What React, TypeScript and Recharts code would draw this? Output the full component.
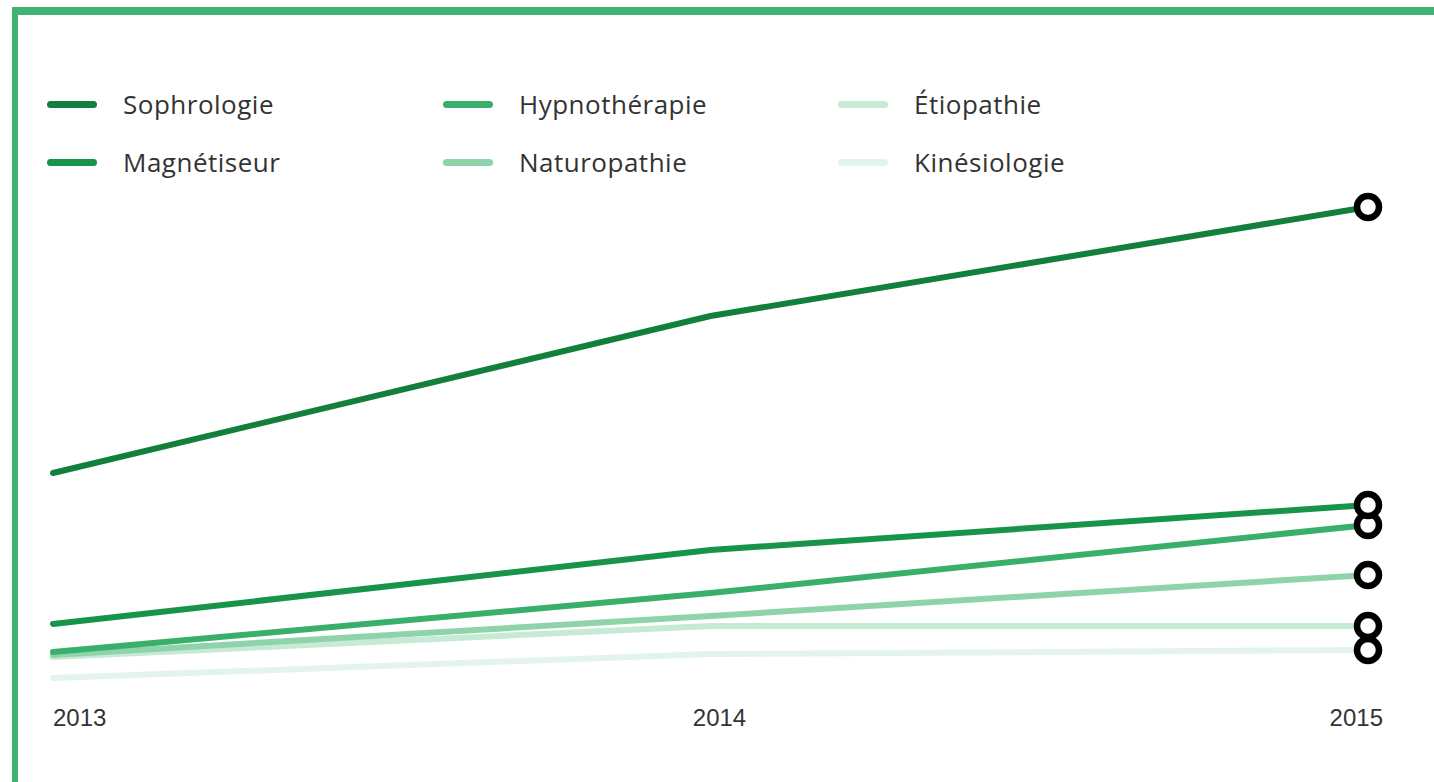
import React from "react";
import { LineChart, Line, XAxis, YAxis } from "recharts";

const years = ["2013", "2014", "2015"];

const sophrologie = [45.4, 76.8, 98.6];
const magnetiseur = [15.2, 30, 39];
const hypnotherapie = [9.6, 21.4, 35];
const naturopathie = [9, 16.8, 25];
const etiopathie = [8.6, 14.8, 14.8];
const kinesiologie = [4.4, 9.2, 10];

const series = [
  { key: "sophrologie", name: "Sophrologie", values: sophrologie, color: "#137f3c" },
  { key: "magnetiseur", name: "Magnétiseur", values: magnetiseur, color: "#18944a" },
  { key: "hypnotherapie", name: "Hypnothérapie", values: hypnotherapie, color: "#3aaf6b" },
  { key: "naturopathie", name: "Naturopathie", values: naturopathie, color: "#8fd3aa" },
  { key: "etiopathie", name: "Étiopathie", values: etiopathie, color: "#c6ead4" },
  { key: "kinesiologie", name: "Kinésiologie", values: kinesiologie, color: "#e3f4ea" },
];

const data = years.map((year, i) => {
  const row: Record<string, string | number> = { year };
  series.forEach((s) => {
    row[s.key] = s.values[i];
  });
  return row;
});

// legend is laid out in 3 columns, 2 rows
const legendOrder = [
  ["sophrologie", "magnetiseur"],
  ["hypnotherapie", "naturopathie"],
  ["etiopathie", "kinesiologie"],
];

function EndDot(props: { cx?: number; cy?: number; index?: number }) {
  const { cx, cy, index } = props;
  if (index !== years.length - 1 || cx == null || cy == null) return <g key={`d-${index}`} />;
  return (
    <circle key={`d-${index}`} cx={cx} cy={cy} r={11} fill="#fff" stroke="#000" strokeWidth={6.5} />
  );
}

function YearTick(props: { x?: number; y?: number; index?: number; payload?: { value: string } }) {
  const { x = 0, y = 0, index = 0, payload } = props;
  const last = index === years.length - 1;
  const anchor = index === 0 ? "start" : last ? "end" : "middle";
  const dx = last ? 15 : index === 0 ? 0 : 9;
  return (
    <text
      x={x + dx}
      y={y}
      dy={18}
      textAnchor={anchor}
      fontSize={24}
      fontFamily="'Liberation Sans', Arial, sans-serif"
      fill="#333"
    >
      {payload?.value}
    </text>
  );
}

export default function App() {
  const drawOrder = [...series].reverse();
  return (
    <div
      style={{
        position: "fixed",
        left: 0,
        top: 0,
        width: 1434,
        height: 782,
        background: "#fff",
        overflow: "hidden",
      }}
    >
      {/* green frame, cut off on the right and at the bottom */}
      <div
        style={{
          position: "absolute",
          left: 12,
          top: 7,
          width: 1440,
          height: 800,
          borderTop: "8px solid #3fb472",
          borderLeft: "6px solid #3fb472",
        }}
      />

      <div style={{ position: "absolute", left: 0, top: 0 }}>
        <LineChart width={1434} height={782} data={data} margin={{ top: 200, right: 66, left: 53, bottom: 42 }}>
          <XAxis
            dataKey="year"
            axisLine={false}
            tickLine={false}
            height={40}
            interval={0}
            tick={<YearTick />}
          />
          <YAxis hide domain={[0, 100]} />
          {drawOrder.map((s) => (
            <Line
              key={s.key}
              type="linear"
              dataKey={s.key}
              name={s.name}
              stroke={s.color}
              strokeWidth={6}
              strokeLinecap="round"
              dot={<EndDot />}
              activeDot={false}
              isAnimationActive={false}
            />
          ))}
        </LineChart>
      </div>

      {/* legend */}
      {legendOrder.map((col, ci) => (
        <div key={ci} style={{ position: "absolute", left: [47, 443, 838][ci], top: 87 }}>
          {col.map((k) => {
            const s = series.find((x) => x.key === k)!;
            return (
              <div key={k} style={{ display: "flex", alignItems: "center", height: 34, marginBottom: 24 }}>
                <span
                  style={{
                    display: "inline-block",
                    width: 50,
                    height: 7,
                    borderRadius: 3.5,
                    background: s.color,
                    marginRight: 26,
                  }}
                />
                <span
                  style={{
                    fontFamily: "'Open Sans', Roboto, sans-serif",
                    fontSize: 26,
                    color: "#333",
                    letterSpacing: 0.5,
                  }}
                >
                  {s.name}
                </span>
              </div>
            );
          })}
        </div>
      ))}
    </div>
  );
}
